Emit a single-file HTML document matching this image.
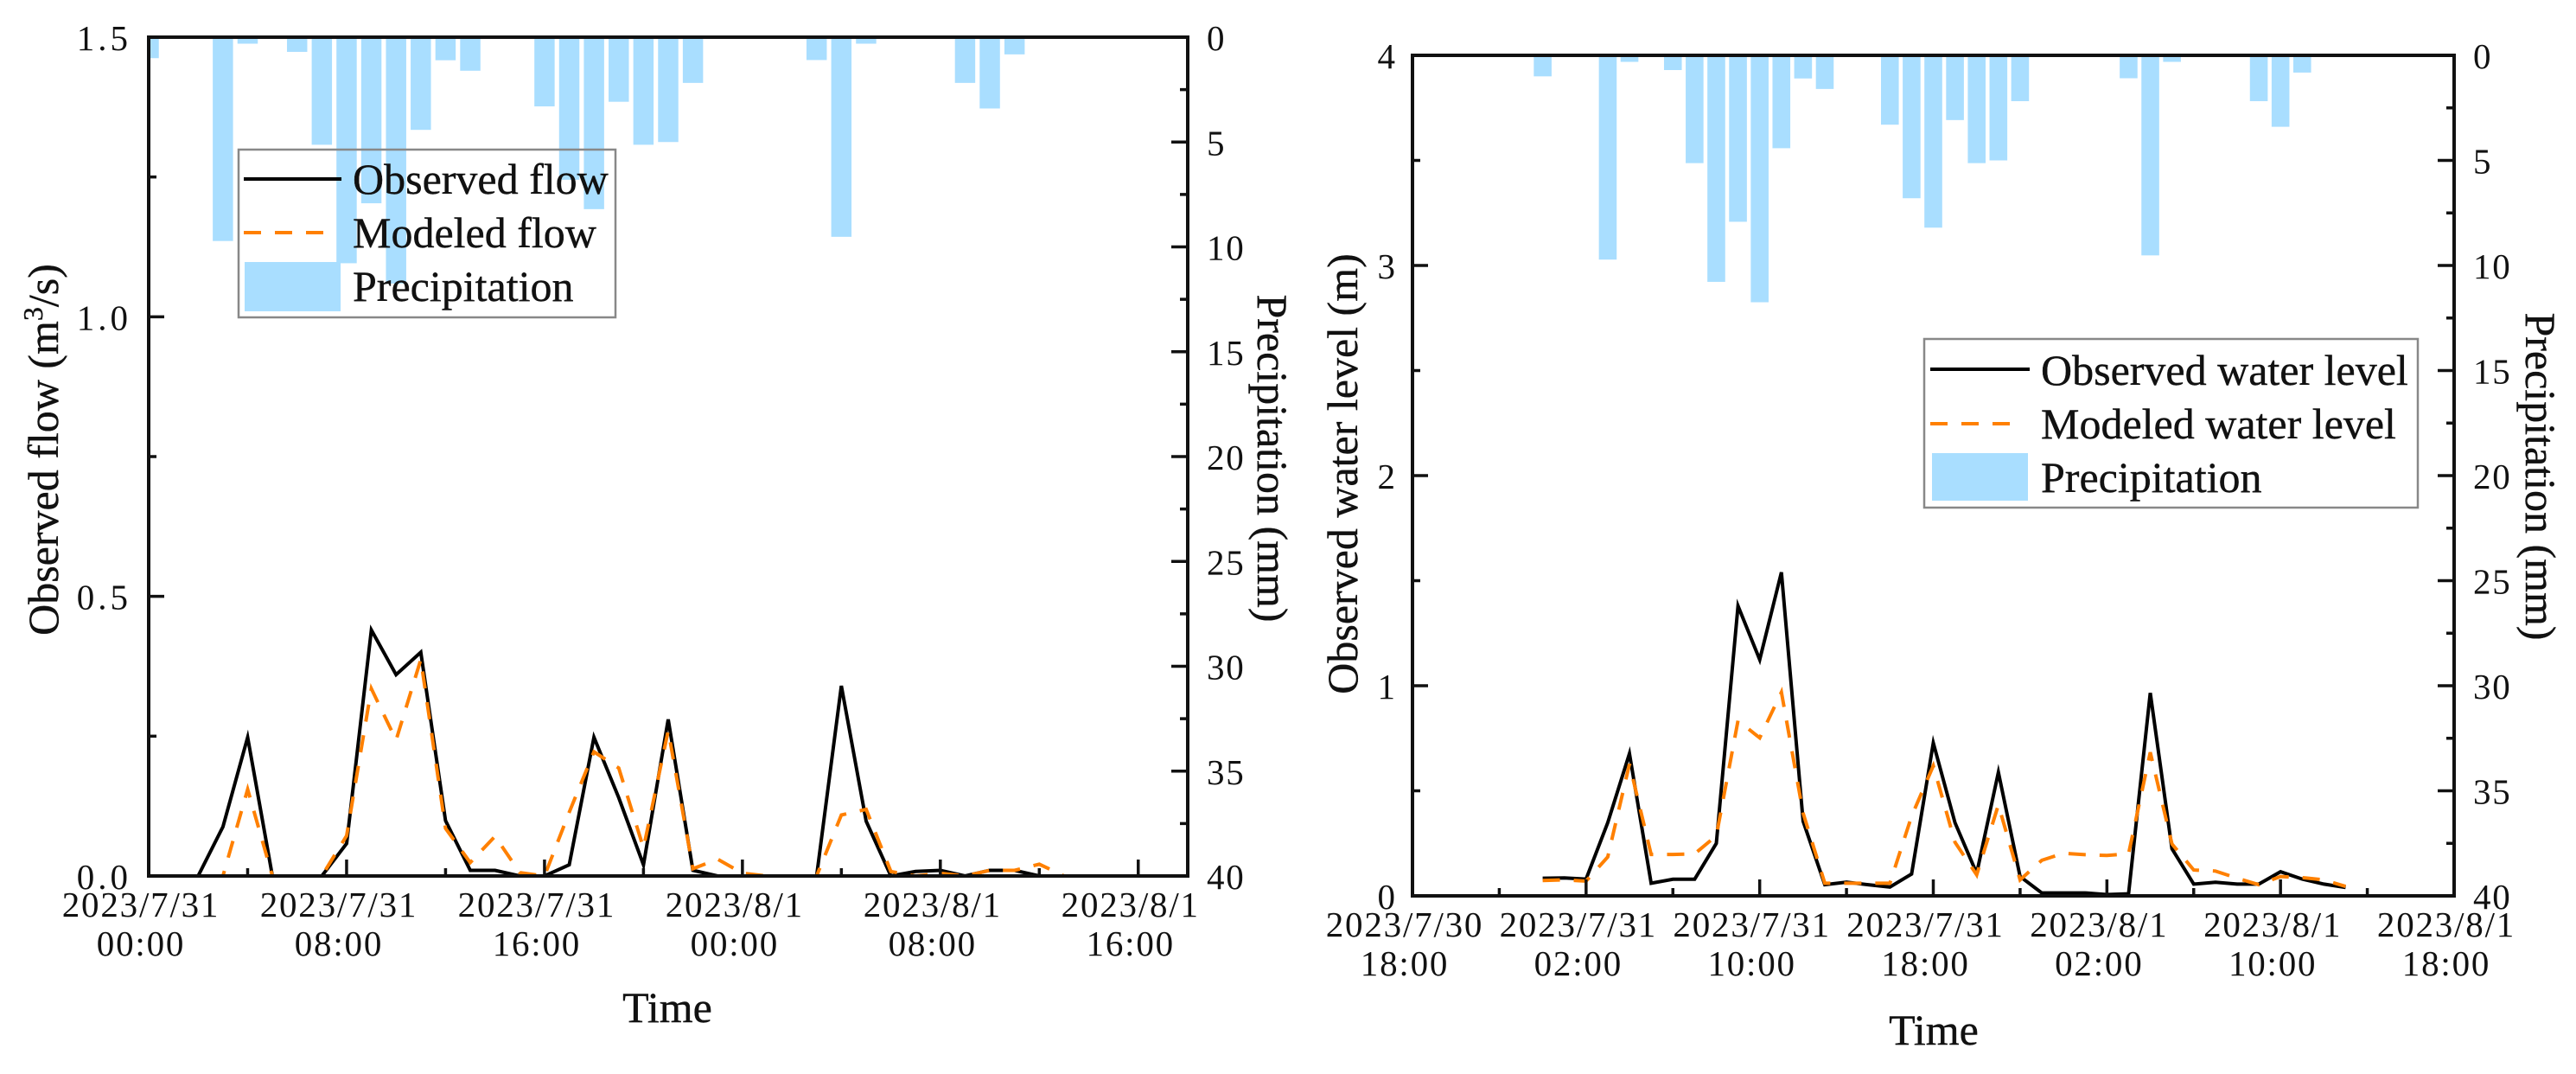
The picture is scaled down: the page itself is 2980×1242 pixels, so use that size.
<!DOCTYPE html>
<html lang="en">
<head>
<meta charset="utf-8">
<title>Observed and modeled flow and water level with precipitation</title>
<style>
html,body{margin:0;padding:0;background:#fff;width:2980px;height:1242px;overflow:hidden}
svg{display:block}
text{font-family:"Liberation Serif","Noto Serif CJK SC",serif;fill:#111}
.tick{font-size:41px;letter-spacing:1.8px}
.title{font-size:50px;stroke:#111;stroke-width:.4px}
.legend-text{font-size:50px;stroke:#111;stroke-width:.4px}
</style>
</head>
<body>
<svg id="figure" xmlns="http://www.w3.org/2000/svg" width="2980" height="1242" viewBox="0 0 2980 1242">
  <rect width="2980" height="1242" fill="#fff"/>
  <g id="flow-chart"></g>
  <g id="level-chart"></g>

  <text class="title" transform="translate(67,520) rotate(-90)" text-anchor="middle">Observed flow (m<tspan font-size="32" dy="-18">3</tspan><tspan dy="18">/s)</tspan></text>
  <text class="title" transform="translate(1455,530) rotate(90)" text-anchor="middle">Precipitation (mm)</text>
  <text class="title" x="772" y="1182" text-anchor="middle">Time</text>

  <text class="title" transform="translate(1570,548) rotate(-90)" text-anchor="middle">Observed water level (m)</text>
  <text class="title" transform="translate(2922,551) rotate(90)" text-anchor="middle">Precipitation (mm)</text>
  <text class="title" x="2237" y="1208" text-anchor="middle">Time</text>

  <g>
    <rect x="276" y="173" width="436" height="194" fill="none" stroke="#888" stroke-width="2.5"/>
    <line x1="282" y1="207" x2="395" y2="207" stroke="#000" stroke-width="4"/>
    <line x1="282" y1="269" x2="375" y2="269" stroke="#ff8000" stroke-width="4" stroke-dasharray="20 16"/>
    <rect x="283" y="303" width="111" height="57" fill="#a9deff"/>
    <text class="legend-text" x="408" y="224">Observed flow</text>
    <text class="legend-text" x="408" y="286">Modeled flow</text>
    <text class="legend-text" x="408" y="348">Precipitation</text>
  </g>

  <g>
    <rect x="2226" y="392" width="571" height="195" fill="none" stroke="#888" stroke-width="2.5"/>
    <line x1="2233" y1="427" x2="2348" y2="427" stroke="#000" stroke-width="4"/>
    <line x1="2233" y1="490" x2="2327" y2="490" stroke="#ff8000" stroke-width="4" stroke-dasharray="20 16"/>
    <rect x="2235" y="524" width="111" height="55" fill="#a9deff"/>
    <text class="legend-text" x="2361" y="445">Observed water level</text>
    <text class="legend-text" x="2361" y="507">Modeled water level</text>
    <text class="legend-text" x="2361" y="569">Precipitation</text>
  </g>
</svg>

<script>
// Hours since 2023/7/31 00:00, one per data point
const hours = [0,1,2,3,4,5,6,7,8,9,10,11,12,13,14,15,16,17,18,19,20,21,22,23,24,25,26,27,28,29,30,31,32,33,34,35,36,37];

// Precipitation (mm)
const precipitation = [1.0,0.05,0,9.72,0.31,0,0.7,5.13,10.78,7.92,11.75,4.42,1.1,1.6,0,0,3.3,6.8,8.2,3.08,5.13,5.0,2.18,0,0,0,0,1.09,9.52,0.31,0,0,0,2.18,3.4,0.82,0,0.05];

// Flow chart series (m3/s)
const observedFlow = [0,0,0,0.088,0.248,0,0,0,0.058,0.44,0.36,0.40,0.099,0.01,0.01,0,0,0.02,0.248,0.14,0.02,0.28,0.01,0,0,0,0,0,0.34,0.098,0,0.008,0.01,0,0.01,0.01,0,0];
const modeledFlow = [0,0,0,0,0.155,0,0,0,0.072,0.335,0.243,0.387,0.085,0.024,0.071,0.006,0,0.114,0.222,0.193,0.05,0.26,0.013,0.03,0.005,0,0,0,0.109,0.119,0.008,0,0.005,0,0.01,0.01,0.021,0];

// Water level chart series (m)
const observedLevel = [0.084,0.085,0.08,0.348,0.677,0.06,0.079,0.079,0.25,1.38,1.124,1.54,0.355,0.053,0.065,0.053,0.042,0.104,0.728,0.348,0.107,0.588,0.092,0.014,0.014,0.014,0.006,0.01,0.966,0.224,0.056,0.065,0.056,0.056,0.115,0.08,0.056,0.04];
const modeledLevel = [0.073,0.076,0.07,0.185,0.627,0.197,0.197,0.2,0.286,0.834,0.752,0.969,0.394,0.06,0.06,0.06,0.06,0.379,0.619,0.255,0.1,0.433,0.076,0.169,0.203,0.196,0.192,0.2,0.683,0.247,0.123,0.118,0.084,0.053,0.092,0.087,0.076,0.045];

// Tick labels
const flowDateLabels = ["2023/7/31","2023/7/31","2023/7/31","2023/8/1","2023/8/1","2023/8/1"];
const flowTimeLabels = ["00:00","08:00","16:00","00:00","08:00","16:00"];
const levelDateLabels = ["2023/7/30","2023/7/31","2023/7/31","2023/7/31","2023/8/1","2023/8/1","2023/8/1"];
const levelTimeLabels = ["18:00","02:00","10:00","18:00","02:00","10:00","18:00"];
const flowAxisLabels = ["0.0","0.5","1.0","1.5"];
const flowAxisValues = [0,0.5,1,1.5];
const levelAxisLabels = ["0","1","2","3","4"];
const levelAxisValues = [0,1,2,3,4];
const precipAxisValues = [0,5,10,15,20,25,30,35,40];

const NS = 'http://www.w3.org/2000/svg';

function make(parent, tag, attrs, content) {
  const el = document.createElementNS(NS, tag);
  for (const key in attrs) el.setAttribute(key, attrs[key]);
  if (content !== undefined) el.textContent = content;
  parent.appendChild(el);
  return el;
}

function drawChart(cfg) {
  const root = document.getElementById(cfg.rootId);
  const xScale = h => cfg.left + (h - cfg.startHour) / cfg.spanHours * (cfg.right - cfg.left);
  const yScale = v => cfg.bottom - v / cfg.yMax * (cfg.bottom - cfg.top);
  const pScale = p => cfg.top + p / 40 * (cfg.bottom - cfg.top);
  const hourPx = (cfg.right - cfg.left) / cfg.spanHours;

  const clipId = cfg.rootId + '-clip';
  const defs = make(root, 'defs', {});
  const clip = make(defs, 'clipPath', {id: clipId});
  make(clip, 'rect', {x: cfg.left, y: cfg.top, width: cfg.right - cfg.left, height: cfg.bottom - cfg.top});

  // Precipitation bars
  const barGroup = make(root, 'g', {'clip-path': 'url(#' + clipId + ')'});
  
  
  precipitation.forEach((p, i) => {
    if (p <= 0) return;
    const bar = make(barGroup, 'rect', {
      x: xScale(hours[i]) - hourPx * 0.41,
      y: cfg.top,
      width: hourPx * 0.82,
      height: pScale(p) - cfg.top,
      fill: '#a9deff'
    });
    
    
  });

  // Series lines
  const toPoints = values => values.map((v, i) => xScale(hours[i]).toFixed(1) + ',' + yScale(v).toFixed(1)).join(' ');
  const observedLine = make(root, 'polyline', {
    points: toPoints(cfg.observed), fill: 'none', stroke: '#000', 'stroke-width': 4, 'stroke-linejoin': 'miter', 'stroke-miterlimit': 6
  });
  
  
  const modeledLine = make(root, 'polyline', {
    points: toPoints(cfg.modeled), fill: 'none', stroke: '#ff8000', 'stroke-width': 4, 'stroke-dasharray': '20 16'
  });
  
  

  // Plot frame
  const frame = make(root, 'rect', {
    x: cfg.left, y: cfg.top, width: cfg.right - cfg.left, height: cfg.bottom - cfg.top,
    fill: 'none', stroke: '#111', 'stroke-width': 4
  });
  
  

  // X axis ticks (major every 8 h, minor every 4 h) and two-line labels
  const xAxis = make(root, 'g', {});
  
  
  for (let step = 0; step * 4 <= cfg.spanHours; step++) {
    const h = cfg.startHour + step * 4;
    const x = xScale(h);
    const major = step % 2 === 0;
    const tick = make(xAxis, 'line', {x1: x, x2: x, y1: cfg.bottom, y2: cfg.bottom - (major ? 19 : 9), stroke: '#111', 'stroke-width': 3.5});
    
    
    if (major) {
      const idx = step / 2;
      const dateLabel = make(xAxis, 'text', {class: 'tick', x: x - 9, y: cfg.bottom + 47, 'text-anchor': 'middle'}, cfg.dateLabels[idx]);
      
      
      const timeLabel = make(xAxis, 'text', {class: 'tick', x: x - 9, y: cfg.bottom + 92, 'text-anchor': 'middle'}, cfg.timeLabels[idx]);
      
      
    }
  }

  // Left axis ticks and labels
  const leftAxis = make(root, 'g', {});
  
  
  cfg.axisValues.forEach((v, i) => {
    const y = yScale(v);
    const tick = make(leftAxis, 'line', {x1: cfg.left, x2: cfg.left + 18, y1: y, y2: y, stroke: '#111', 'stroke-width': 3.5});
    
    
    const label = make(leftAxis, 'text', {class: 'tick', x: cfg.left - 20, y: y + 15, 'text-anchor': 'end', style: 'letter-spacing:' + cfg.leftSpacing + 'px'}, cfg.axisLabels[i]);
    
    
    if (i < cfg.axisValues.length - 1) {
      const mid = yScale((v + cfg.axisValues[i + 1]) / 2);
      const minor = make(leftAxis, 'line', {x1: cfg.left, x2: cfg.left + 9, y1: mid, y2: mid, stroke: '#111', 'stroke-width': 3.5});
      
      
    }
  });

  // Right (precipitation) axis ticks and labels
  const rightAxis = make(root, 'g', {});
  
  
  precipAxisValues.forEach((v, i) => {
    const y = pScale(v);
    const tick = make(rightAxis, 'line', {x1: cfg.right, x2: cfg.right - 19, y1: y, y2: y, stroke: '#111', 'stroke-width': 3.5});
    
    
    const label = make(rightAxis, 'text', {class: 'tick', x: cfg.right + 22, y: y + 15}, String(v));
    
    
    if (i < precipAxisValues.length - 1) {
      const mid = pScale((v + precipAxisValues[i + 1]) / 2);
      const minor = make(rightAxis, 'line', {x1: cfg.right, x2: cfg.right - 9, y1: mid, y2: mid, stroke: '#111', 'stroke-width': 3.5});
      
      
    }
  });
}

drawChart({
  rootId: 'flow-chart', left: 172, right: 1374, top: 43, bottom: 1013,
  startHour: 0, spanHours: 42, yMax: 1.5, leftSpacing: 4,
  observed: observedFlow, modeled: modeledFlow,
  dateLabels: flowDateLabels, timeLabels: flowTimeLabels,
  axisValues: flowAxisValues, axisLabels: flowAxisLabels
});

drawChart({
  rootId: 'level-chart', left: 1634, right: 2839, top: 64, bottom: 1036,
  startHour: -6, spanHours: 48, yMax: 4, leftSpacing: 0,
  observed: observedLevel, modeled: modeledLevel,
  dateLabels: levelDateLabels, timeLabels: levelTimeLabels,
  axisValues: levelAxisValues, axisLabels: levelAxisLabels
});
</script>
</body>
</html>
